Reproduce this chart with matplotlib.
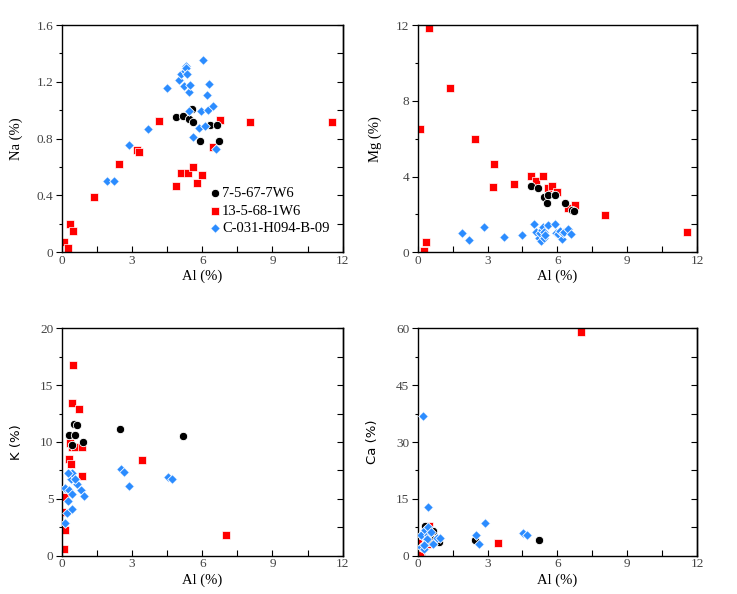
import matplotlib
matplotlib.use('Agg')
import matplotlib.pyplot as plt
import numpy as np

plt.rcParams['font.family'] = ['Liberation Serif', 'DejaVu Serif']
plt.rcParams['axes.linewidth'] = 1.0

# ---------- 数据 (上排: Na, Mg 对 Al) ----------
labels = ['7-5-67-7W6', '13-5-68-1W6', 'C-031-H094-B-09']

top_al_black = [4.87, 5.17, 5.44, 5.55, 5.61, 5.89, 6.35, 6.63, 6.72]
top_na_black = [0.955, 0.96, 0.94, 1.01, 0.92, 0.78, 0.896, 0.896, 0.78]
top_mg_black = [3.48, 3.38, 2.92, 2.60, 3.03, 3.03, 2.59, 2.23, 2.16]

top_al_red = [0.10, 0.28, 0.35, 0.47, 1.38, 2.46, 3.22, 3.29, 4.14, 4.88,
              5.10, 5.38, 5.60, 5.78, 6.00, 6.46, 6.75, 8.05, 11.55]
top_na_red = [0.07, 0.028, 0.20, 0.15, 0.39, 0.62, 0.72, 0.706, 0.922, 0.464,
              0.556, 0.556, 0.598, 0.488, 0.547, 0.74, 0.93, 0.915, 0.917]
top_mg_red = [6.49, 0.07, 0.55, 11.82, 8.69, 5.96, 3.47, 4.64, 3.59, 4.01,
              3.75, 4.01, 3.41, 3.50, 3.17, 2.32, 2.50, 1.99, 1.06]

top_al_blue = [1.92, 2.22, 2.86, 3.70, 4.48, 5.00, 5.08, 5.22, 5.27, 5.30, 5.32, 5.37, 5.42,
               5.44, 5.49, 5.61, 5.88, 5.96, 6.02, 6.12, 6.19, 6.26, 6.28, 6.45, 6.58]
top_na_blue = [0.50, 0.50, 0.753, 0.868, 1.157, 1.213, 1.255, 1.173, 1.276, 1.31, 1.30, 1.253, 0.995,
               1.13, 1.175, 0.814, 0.877, 0.997, 1.356, 0.889, 1.11, 1.004, 1.182, 1.032, 0.727]
top_mg_blue = [1.00, 0.65, 1.35, 0.79, 0.93, 1.48, 1.09, 0.76, 1.02, 0.62, 1.20, 1.35, 0.76,
               1.05, 0.90, 1.43, 1.48, 1.02, 0.95, 1.13, 0.70, 1.04, 1.09, 1.21, 0.97]

# ---------- 数据 (下排: K, Ca 对 Al) ----------
bot_al_black = [0.53, 0.64, 0.31, 0.57, 0.46, 0.91, 2.48, 5.20]
bot_k_black = [11.58, 11.50, 10.59, 10.62, 9.71, 10.0, 11.14, 10.56]
bot_ca_black = [5.0, 6.5, 7.8, 4.5, 3.6, 3.5, 4.1, 4.1]

bot_al_red = [0.50, 0.46, 0.75, 0.34, 0.44, 0.57, 0.85, 0.31, 0.40, 0.85,
              0.13, 0.00, 0.13, 0.09, 3.44, 7.02]
bot_k_red = [16.77, 13.4, 12.87, 9.88, 9.6, 9.53, 9.53, 8.47, 8.06, 6.98,
             5.19, 3.81, 2.29, 0.62, 8.39, 1.85]
bot_ca_red = [7.9, 5.2, 4.0, 6.0, 4.5, 3.5, 4.2, 5.5, 3.0, 3.8,
              1.0, 3.4, 0.8, 0.2, 3.3, 58.9]

bot_al_blue = [0.13, 0.24, 0.43, 0.27, 0.14, 0.33, 0.44, 0.81, 0.95, 0.65,
               0.38, 0.46, 0.27, 0.56, 2.52, 2.65, 2.89, 4.54, 4.70]
bot_k_blue = [2.84, 3.78, 4.13, 4.78, 5.98, 5.75, 5.43, 5.81, 5.28, 6.30,
              6.77, 7.30, 7.27, 6.77, 7.62, 7.33, 6.10, 6.92, 6.74]
bot_ca_blue = [2.4, 36.9, 12.76, 1.7, 5.4, 6.7, 5.45, 4.8, 4.66, 3.0,
               4.3, 7.6, 2.7, 6.2, 5.45, 3.08, 8.62, 6.07, 5.45]

# ---------- 画布 ----------
fig = plt.figure(figsize=(7.37, 5.94), dpi=100)
W, H = 737, 594
boxes = [(61.7, 25, 342.7, 252.3), (417.7, 25, 697, 252.3),
         (61.7, 328.3, 342.7, 555.7), (417.7, 328.3, 697, 555.7)]
axes = [fig.add_axes([x0 / W, 1 - y1 / H, (x1 - x0) / W, (y1 - y0) / H]) for x0, y0, x1, y1 in boxes]

panels = [
    (top_al_black, top_na_black, top_al_red, top_na_red, top_al_blue, top_na_blue, 'Na (%)', 1.6, 0.4, 'serif'),
    (top_al_black, top_mg_black, top_al_red, top_mg_red, top_al_blue, top_mg_blue, 'Mg (%)', 12, 4, 'serif'),
    (bot_al_black, bot_k_black, bot_al_red, bot_k_red, bot_al_blue, bot_k_blue, 'K (%)', 20, 5, 'sans'),
    (bot_al_black, bot_ca_black, bot_al_red, bot_ca_red, bot_al_blue, bot_ca_blue, 'Ca (%)', 60, 15, 'sans'),
]

for ax, (xb, yb, xr, yr, xl, yl, ylab, ymax, ystep, fam) in zip(axes, panels):
    # 红色在最下面，黑色中间，蓝色在最上面
    hr = ax.scatter(xr, yr, marker='s', s=36, c='#ff0000', edgecolors='white', linewidths=0.5, zorder=2)
    hb = ax.scatter(xb, yb, marker='o', s=36, c='black', edgecolors='white', linewidths=0.6, zorder=3)
    hl = ax.scatter(xl, yl, marker='D', s=24, c='#2b8cff', edgecolors='white', linewidths=0.6, zorder=4)

    ax.set_xlim(0, 12)
    ax.set_ylim(0, ymax)
    ax.set_xticks([0, 3, 6, 9, 12])
    ax.set_xticks(np.arange(0, 12.1, 1.5), minor=True)
    yt = np.arange(0, ymax + ystep / 10, ystep)
    ax.set_yticks(yt)
    ax.set_yticks(np.arange(0, ymax + ystep / 10, ystep / 2), minor=True)
    if ymax == 1.6:
        ax.set_yticklabels(['0'] + ['%.1f' % v for v in yt[1:]])
    else:
        ax.set_yticklabels(['%d' % v for v in yt])

    ax.tick_params(axis='x', which='both', direction='in', length=4, width=0.8,
                   labelsize=9.5, labelcolor='#444444', pad=2)
    ax.tick_params(axis='y', which='major', direction='out', length=4, width=0.8,
                   labelsize=9.5, labelcolor='#444444', pad=2)
    ax.tick_params(axis='y', which='minor', direction='out', length=2.5, width=0.8)

    # 右侧刻度：8 等分
    sec = ax.secondary_yaxis('right')
    sec.set_yticks(np.linspace(0, ymax, 9))
    sec.set_yticklabels([])
    sec.tick_params(direction='in', length=4, width=0.8)

    ax.set_xlabel('Al (%)', fontsize=10.5, labelpad=2)
    if fam == 'serif':
        ax.set_ylabel(ylab, fontsize=10.5, labelpad=10)
    else:
        ax.set_ylabel(ylab, fontsize=9.5, labelpad=12, family=['DejaVu Sans'])

    if ylab == 'Na (%)':
        ax.legend([hb, hr, hl], labels, loc='lower left', bbox_to_anchor=(0.49, 0.03),
                  frameon=False, fontsize=10.5, handlelength=0.7, handletextpad=0.15,
                  labelspacing=0.3, borderpad=0.2)

fig.savefig('out.png', dpi=100)
